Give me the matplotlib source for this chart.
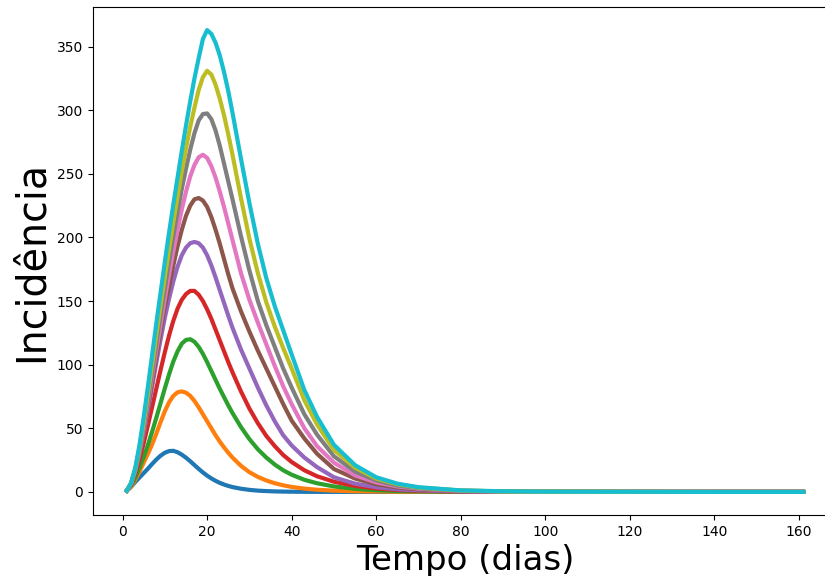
import matplotlib
matplotlib.use("Agg")
import matplotlib.pyplot as plt

# time (days)
tempo = [1, 2, 3, 4, 5, 6, 7, 8, 9, 10, 11, 12, 13, 14, 15, 16, 17, 18, 19, 20,
         21, 22, 23, 24, 25, 26, 28, 30, 32, 34, 36, 38, 40, 43, 46, 50, 55, 60,
         65, 70, 80, 90, 100, 120, 140, 161]

serie_1 = [1, 4, 7.8, 11.3, 14.8, 18.3, 22, 25.5, 28.5, 30.8, 32.1, 32.3, 31.2, 29.3, 26.9, 24.1, 21.1, 18.1, 15.3, 12.8,
           10.6, 8.7, 7.1, 5.8, 4.7, 3.8,
           2.5, 1.6, 1.0, 0.65, 0.4, 0.25, 0.15, 0.08, 0.04, 0.02, 0, 0, 0, 0, 0, 0, 0, 0, 0, 0]
serie_2 = [1, 4, 9.5, 16, 23, 30, 37.5, 46, 55, 63.5, 70.5, 75.5, 78.3, 79, 78, 75.5, 71.5, 66.5, 61, 55.5,
           50, 44.5, 39.5, 35, 30.8, 27,
           20.5, 15.5, 11.8, 9, 6.8, 5.2, 3.9, 2.6, 1.7, 1.0, 0.5, 0.3, 0.15, 0.1, 0, 0, 0, 0, 0, 0]
serie_3 = [1, 5, 11, 19, 27.5, 37, 47.5, 58.5, 70, 81.5, 92.5, 102.5, 110.5, 116.5, 119.5, 120, 118, 114, 108.5, 102,
           95, 88, 81, 74.5, 68, 62,
           51, 41.5, 33.5, 27, 21.5, 17, 13.5, 9.5, 6.8, 4.3, 2.4, 1.3, 0.7, 0.4, 0.1, 0, 0, 0, 0, 0]
serie_4 = [1, 5.5, 14, 25.5, 38.5, 52.5, 67, 81.5, 96, 110, 123, 134.5, 144, 151, 155.5, 158, 158, 155, 150, 143.5,
           136, 127.5, 119, 110.5, 102, 94,
           79, 65.5, 54, 44, 36, 29, 23.5, 17, 12.3, 8, 4.7, 2.7, 1.5, 0.9, 0.3, 0.1, 0, 0, 0, 0]
serie_5 = [1, 6, 16, 30, 46, 64, 83, 102, 120, 137, 152, 165.5, 177, 186, 192, 195.5, 196.5, 195.5, 192, 186,
           178, 168.5, 158.5, 148.5, 138.5, 129,
           112, 97, 82, 68, 55.5, 44.5, 36.5, 27, 19.5, 11.5, 6.5, 3.7, 2.1, 1.2, 0.4, 0.1, 0, 0, 0, 0]
serie_6 = [1, 6, 16.5, 31, 48, 67, 87, 107, 127, 146, 161.5, 178, 193, 206, 217, 225, 230, 231, 229, 224,
           216, 206, 195, 183, 171, 160,
           142, 126, 111, 97, 83, 69, 56, 42, 30, 18, 10.5, 6, 3.5, 2, 0.6, 0.2, 0.1, 0, 0, 0]
serie_7 = [1, 6.5, 17, 32, 50, 70, 91, 112, 132, 152, 171, 189, 206, 222, 236, 248, 257, 263, 265, 262.5,
           256, 247, 236, 224, 211, 198,
           172, 151, 133, 116, 99, 83, 69, 50, 36, 23, 13, 7.5, 4.3, 2.5, 0.8, 0.3, 0.1, 0, 0, 0]
serie_8 = [1, 6.5, 17.5, 33, 52, 73, 95, 117, 139, 160, 181, 201, 220, 238, 254, 269, 282, 292, 297, 297.5,
           293, 284, 272, 258, 244, 230,
           201, 174, 150, 131, 114, 97, 82, 61, 45, 28, 16, 9, 5, 2.9, 1, 0.4, 0.2, 0.1, 0, 0]
serie_9 = [1, 7, 18, 34.5, 55, 77.5, 100.5, 124, 147, 169, 191, 212, 232, 252, 270, 287, 302, 316, 326, 331,
           328, 320, 309, 296, 281, 265,
           231, 199, 172, 149, 130, 113, 97, 72, 53, 33, 19, 10.5, 6, 3.4, 1.1, 0.4, 0.2, 0.1, 0, 0]
serie_10 = [1, 7, 19, 37, 59, 83, 108, 133, 157, 181, 204, 226, 247, 268, 288, 307, 325, 341, 356, 363,
            360, 353, 343, 330, 315, 298,
            262, 227, 195, 168, 146, 127, 108, 80, 59, 37, 21, 11.5, 6.5, 3.7, 1.2, 0.5, 0.2, 0.1, 0, 0]

series = [serie_1, serie_2, serie_3, serie_4, serie_5,
          serie_6, serie_7, serie_8, serie_9, serie_10]

fig = plt.figure(figsize=(8.25, 5.76), dpi=100)
ax = fig.add_axes([93 / 825, 1 - 515 / 576, (837 - 93) / 825, (515 - 7) / 576])
for s in series:
    ax.plot(tempo, s, linewidth=3)

ax.set_xlabel("Tempo (dias)", fontsize=24.5)
ax.set_ylabel("Incidência", fontsize=28.5)
ax.tick_params(labelsize=10)

fig.savefig("out.png", dpi=100)
